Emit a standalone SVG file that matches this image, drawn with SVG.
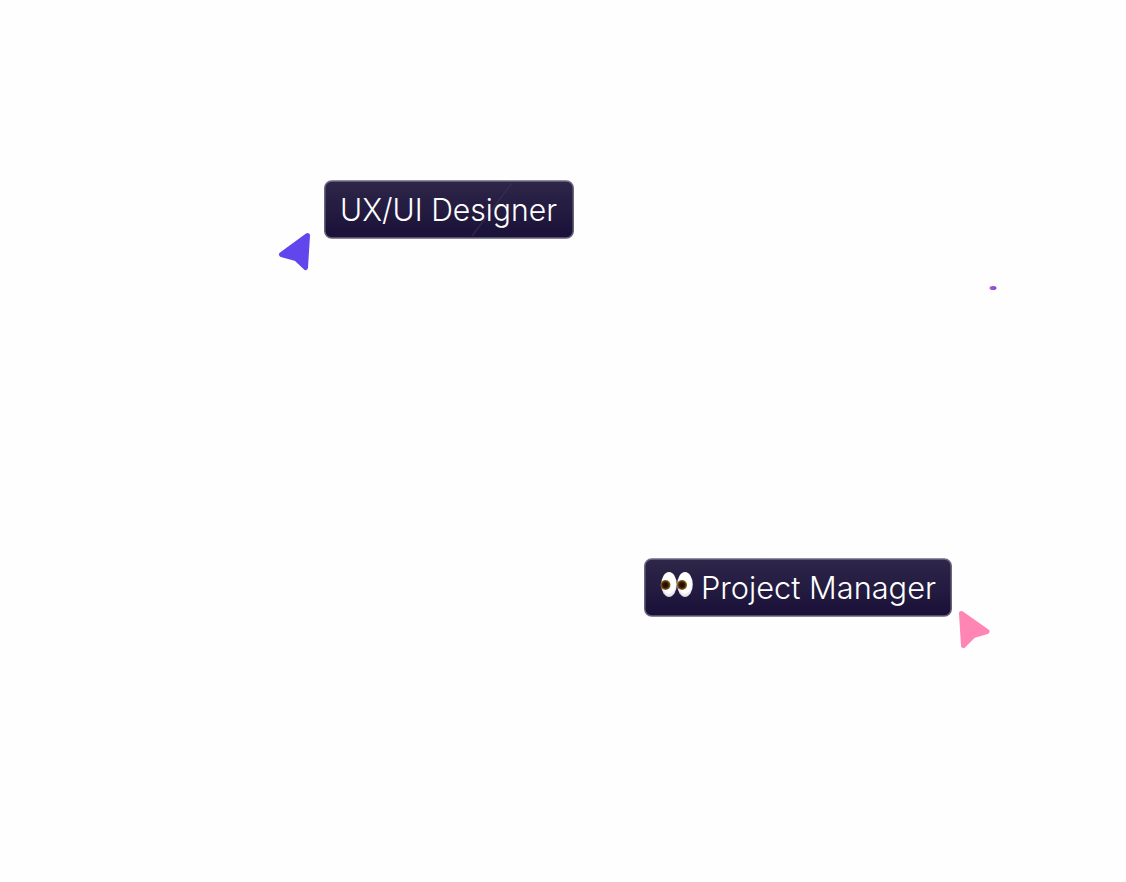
<svg xmlns="http://www.w3.org/2000/svg" width="1126" height="882" viewBox="0 0 1126 882">
<defs>
<linearGradient id="tag" x1="0" y1="0" x2="0" y2="1"><stop offset="0" stop-color="#2e2749"/><stop offset="1" stop-color="#1a1038"/></linearGradient>
<linearGradient id="edge" x1="0" y1="0" x2="0" y2="1"><stop offset="0" stop-color="#6f6a84"/><stop offset="1" stop-color="#66627c"/></linearGradient>
<radialGradient id="white" cx="0.5" cy="0.42" r="0.62"><stop offset="0.65" stop-color="#ffffff"/><stop offset="1" stop-color="#cfcbd8"/></radialGradient>
<radialGradient id="iris"><stop offset="0" stop-color="#1a0d05"/><stop offset="0.5" stop-color="#2a1608"/><stop offset="1" stop-color="#9a6a18"/></radialGradient>
<linearGradient id="dot" x1="0" y1="0" x2="1" y2="0"><stop offset="0" stop-color="#b45ae0"/><stop offset="1" stop-color="#7a45d8"/></linearGradient>
</defs>
<style>
.tag{fill:url(#tag);stroke:url(#edge);stroke-width:1.5}
.label{font-family:"Inter","Liberation Sans",sans-serif;font-size:31px;font-weight:300;fill:#ffffff}
.white{fill:url(#white)}
.iris{fill:url(#iris)}
.cursor{stroke-width:5;stroke-linejoin:round}
</style>
<rect width="1126" height="882" fill="#fefefe"/>
<g id="connectors"></g>
<g id="ux-ui-designer">
<rect class="tag" x="324.750" y="181" width="248.500" height="57" rx="7"/>
<path d="M512 183 L472 236" stroke="#3a3258" stroke-width="1.500" fill="none" opacity="0.6"/>
<text class="label" x="340" y="221" textLength="217" lengthAdjust="spacingAndGlyphs">UX/UI Designer</text>
</g>
<g id="designer-cursor">
<path class="cursor" d="M307.500 235.500 L281.500 254.500 L296 258.500 L305.500 267.500 Z" fill="#6046ec" stroke="#6046ec"/>
</g>
<g id="project-manager">
<rect class="tag" x="644.750" y="559" width="306.500" height="57" rx="7"/>
<ellipse class="white" cx="669" cy="584.500" rx="7.800" ry="12.500"/>
<ellipse class="white" cx="685" cy="584.500" rx="7.800" ry="12.500"/>
<circle class="iris" cx="665.500" cy="585" r="5"/>
<circle class="iris" cx="682" cy="585" r="5"/>
<text class="label" x="701" y="599" textLength="235" lengthAdjust="spacingAndGlyphs">Project Manager</text>
</g>
<g id="manager-cursor">
<path class="cursor" d="M961.500 613.500 L987 631.500 L973.500 635.500 L963.500 645.500 Z" fill="#ff85b5" stroke="#ff85b5"/>
</g>
<g id="small-dot">
<ellipse cx="993" cy="288" rx="3.500" ry="2" fill="url(#dot)"/>
</g>
</svg>
